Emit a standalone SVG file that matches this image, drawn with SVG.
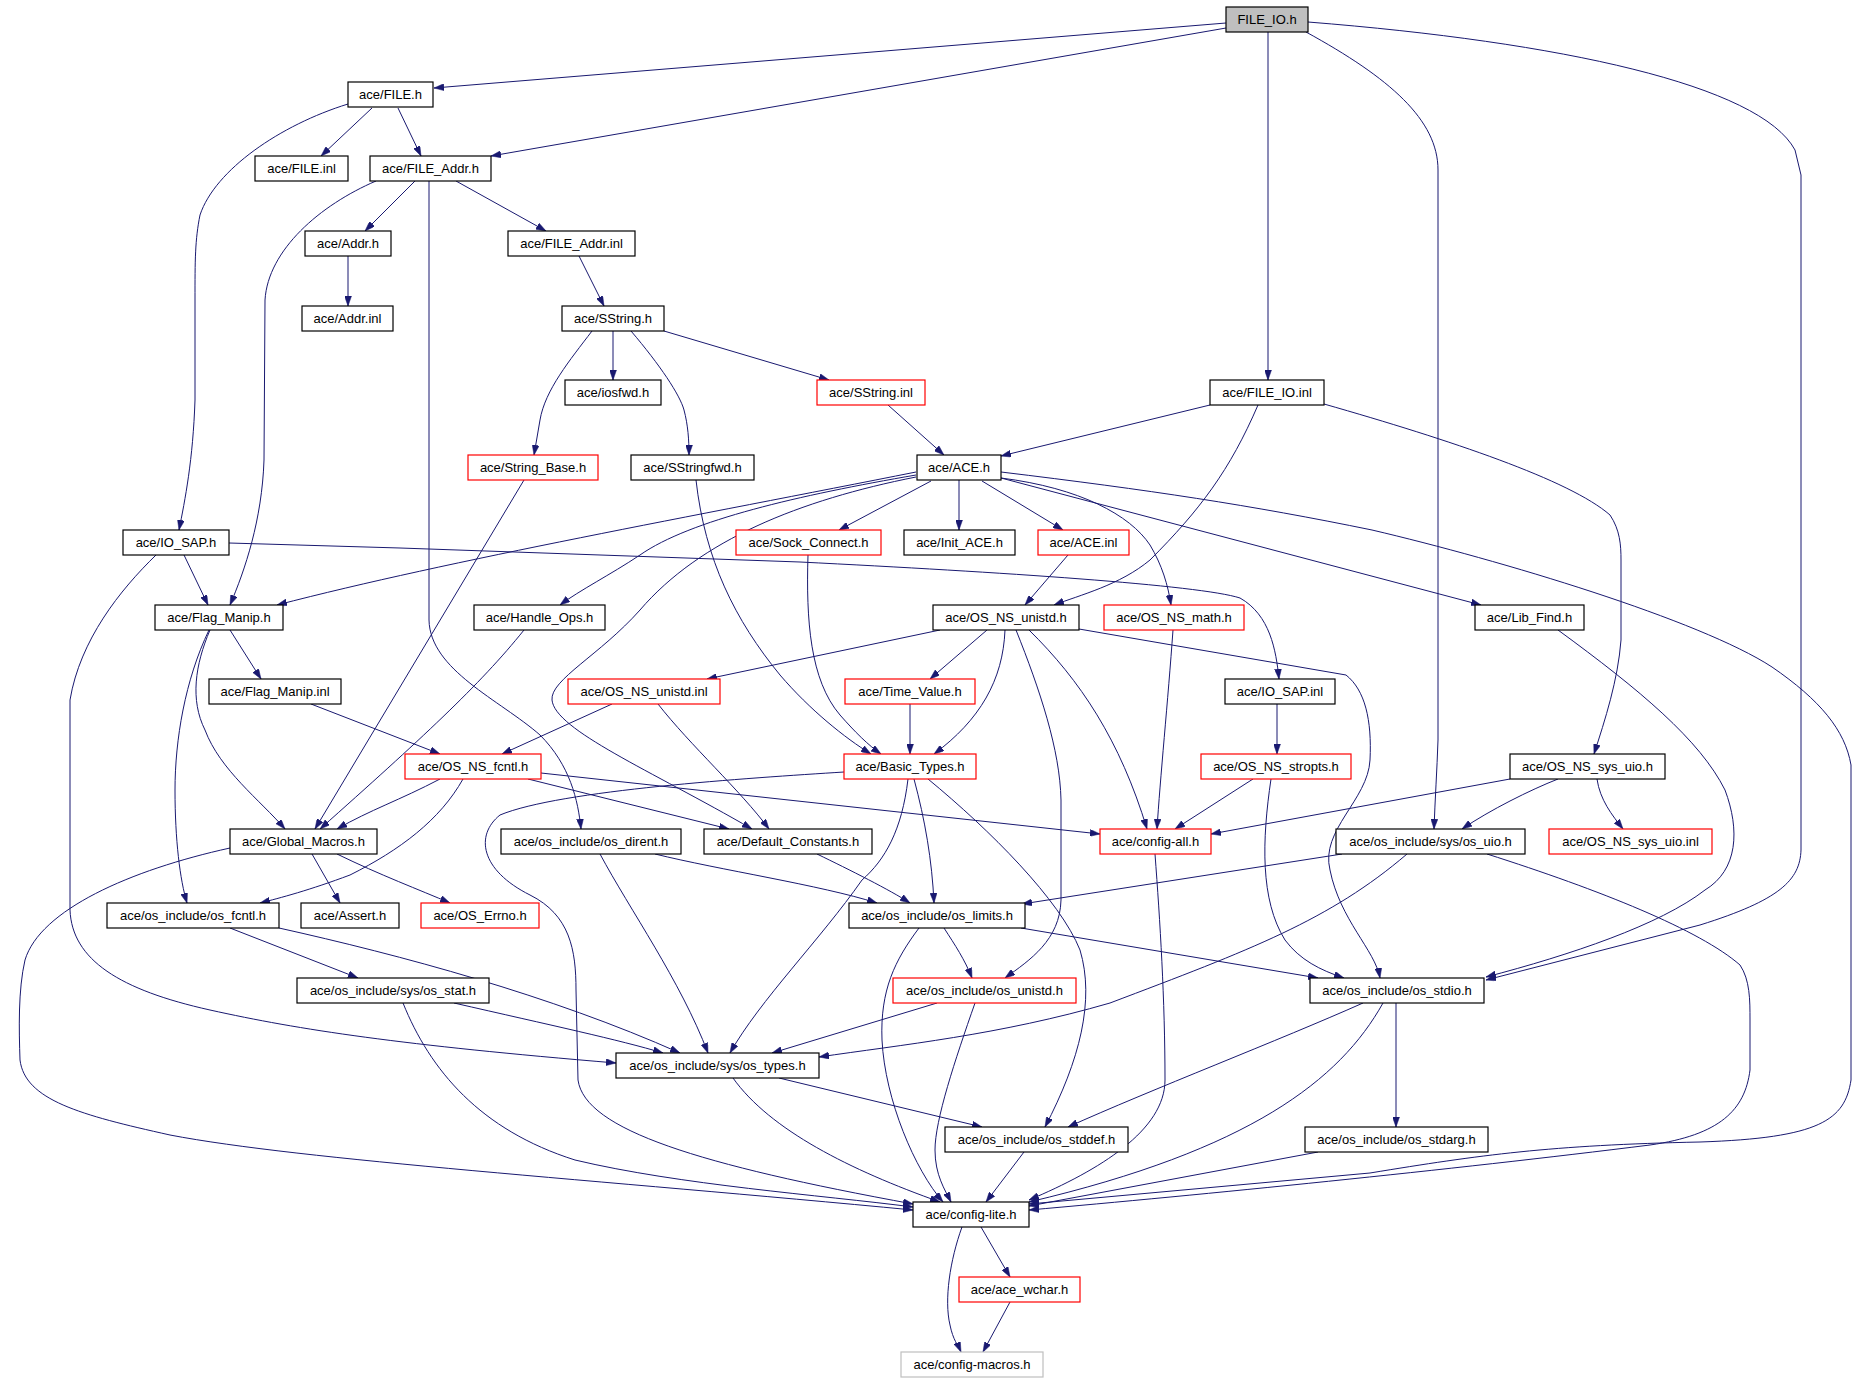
<svg xmlns="http://www.w3.org/2000/svg" width="1869" height="1381" viewBox="0 0 1869 1381">
<defs>
<marker id="a" markerUnits="userSpaceOnUse" viewBox="0 0 10 7" markerWidth="10" markerHeight="7" refX="10" refY="3.5" orient="auto">
<path d="M0,0 L10,3.5 L0,7 z" fill="#191970" stroke="#191970" stroke-width="0.5"/>
</marker>
<style>
.node rect{fill:#ffffff;stroke:#000000;stroke-width:1.2}
.node.red rect{stroke:#ff0000}
.node.root rect{fill:#bfbfbf}
.node.ext rect{stroke:#bfbfbf}
.node text{font-family:"Liberation Sans",Arial,sans-serif;font-size:13px;text-anchor:middle;fill:#000000}
#edges path{fill:none;stroke:#191970;stroke-width:1;marker-end:url(#a)}
</style>
</defs>
<rect width="1869" height="1381" fill="#ffffff"/>
<g id="edges">
<path d="M1226,23 L434,88"/>
<path d="M1226,28 L491,156"/>
<path d="M1268,32 L1268,380"/>
<path d="M1306,32 C1390,78 1438,120 1438,170 L1438,740 C1437,770 1435,800 1434,829"/>
<path d="M1308,22 C1560,42 1760,85 1795,150 L1801,175 L1801,850 C1800,880 1780,900 1700,925 L1486,980"/>
<path d="M372,108 L321,156"/>
<path d="M398,108 L421,156"/>
<path d="M348,104 C280,125 215,170 200,215 C195,240 195,260 195,300 L195,400 C193,460 185,500 179,530"/>
<path d="M415,181 L365,231"/>
<path d="M456,181 L546,231"/>
<path d="M376,181 C320,205 268,250 265,300 L264,460 C262,520 245,570 230,605"/>
<path d="M429,181 L429,620 C430,670 500,700 540,735 C570,765 578,800 581,829"/>
<path d="M348,256 L348,306"/>
<path d="M579,256 L604,306"/>
<path d="M592,331 C570,360 545,390 540,420 L534,455"/>
<path d="M613,331 L613,380"/>
<path d="M631,331 C660,365 680,395 684,410 C688,425 689,440 689,455"/>
<path d="M664,331 L829,380"/>
<path d="M888,405 L944,455"/>
<path d="M1210,405 L1001,456"/>
<path d="M1258,405 C1230,470 1200,510 1150,560 C1120,585 1080,595 1054,605"/>
<path d="M1324,404 C1450,440 1570,480 1610,515 C1620,530 1621,545 1621,560 L1621,640 C1618,680 1605,720 1594,754"/>
<path d="M524,480 L315,829"/>
<path d="M696,480 C705,560 735,620 780,675 C810,710 845,738 871,754"/>
<path d="M916,472 C700,515 450,560 277,605"/>
<path d="M916,475 C800,495 690,520 640,555 C610,575 580,590 560,605"/>
<path d="M916,477 C800,500 700,540 640,610 C600,655 550,680 552,700 C555,730 650,770 752,829"/>
<path d="M931,481 L839,530"/>
<path d="M959,480 L959,530"/>
<path d="M982,481 L1063,530"/>
<path d="M1001,478 C1080,488 1130,515 1150,545 C1162,565 1168,585 1171,605"/>
<path d="M1001,478 L1481,605"/>
<path d="M1001,472 C1150,490 1250,505 1372,530 C1500,560 1700,620 1772,667 C1820,700 1845,730 1851,765 L1851,1080 C1845,1120 1820,1138 1700,1142 C1550,1145 1480,1155 1370,1173 L1029,1204"/>
<path d="M184,555 L208,605"/>
<path d="M229,543 L400,548 L800,562 C1000,572 1200,585 1240,598 C1270,615 1276,650 1279,679"/>
<path d="M156,555 C120,590 80,640 70,700 L70,910 C72,960 120,990 210,1010 C300,1030 400,1045 616,1063"/>
<path d="M808,555 C806,620 810,680 840,715 C855,732 868,745 881,754"/>
<path d="M1068,555 L1025,605"/>
<path d="M230,630 L261,679"/>
<path d="M210,630 C195,665 190,700 205,730 C220,770 260,800 285,829"/>
<path d="M209,630 C185,680 175,740 175,790 C175,840 180,880 187,903"/>
<path d="M524,630 C480,685 420,740 320,829"/>
<path d="M940,630 L707,679"/>
<path d="M987,630 L930,679"/>
<path d="M1005,630 C1003,680 980,720 934,754"/>
<path d="M1016,630 C1040,690 1060,750 1061,800 L1061,900 C1060,940 1030,960 1005,978"/>
<path d="M1029,630 C1080,680 1120,740 1147,829"/>
<path d="M1079,629 L1346,675 C1365,690 1372,720 1370,760 C1368,800 1320,830 1330,870 C1340,920 1375,950 1380,978"/>
<path d="M1173,630 C1168,700 1160,780 1157,829"/>
<path d="M1558,630 C1640,690 1700,740 1725,790 C1740,830 1738,870 1705,890 C1660,925 1570,955 1486,977"/>
<path d="M311,704 L440,754"/>
<path d="M612,704 L502,754"/>
<path d="M658,704 C690,745 740,790 769,829"/>
<path d="M910,704 L910,754"/>
<path d="M1277,704 L1277,754"/>
<path d="M440,779 C400,800 370,810 337,829"/>
<path d="M463,779 C440,820 400,850 350,875 C310,890 280,898 260,903"/>
<path d="M528,779 L729,829"/>
<path d="M541,773 L1100,834"/>
<path d="M844,772 C750,778 560,790 500,815 C475,835 480,870 530,895 C570,915 576,950 576,990 L578,1080 C585,1130 700,1165 913,1204"/>
<path d="M908,779 C902,830 885,860 862,880 C820,940 760,1000 730,1053"/>
<path d="M914,779 C925,820 932,860 934,903"/>
<path d="M928,779 C990,830 1060,900 1080,950 C1095,1000 1080,1060 1045,1127"/>
<path d="M1253,779 L1175,829"/>
<path d="M1271,779 C1262,840 1260,900 1285,940 C1300,960 1320,970 1344,978"/>
<path d="M1510,779 L1211,834"/>
<path d="M1558,779 C1530,790 1490,810 1462,829"/>
<path d="M1597,779 C1600,800 1612,815 1623,829"/>
<path d="M312,854 L340,903"/>
<path d="M337,854 C380,875 420,890 450,903"/>
<path d="M230,848 C130,870 40,910 25,960 C18,990 19,1030 20,1060 C25,1100 80,1115 170,1135 C300,1160 600,1180 913,1210"/>
<path d="M600,854 C630,910 680,980 708,1053"/>
<path d="M655,854 C720,870 820,885 877,903"/>
<path d="M817,854 C850,870 890,890 910,903"/>
<path d="M1155,854 C1160,920 1165,1000 1165,1080 C1165,1130 1100,1170 1029,1200"/>
<path d="M1342,854 L1022,904"/>
<path d="M1407,854 C1330,920 1250,950 1110,1003 C1000,1035 900,1045 819,1057"/>
<path d="M1487,854 C1600,890 1700,930 1740,965 C1750,980 1750,1000 1750,1020 L1750,1070 C1745,1110 1720,1135 1650,1145 C1450,1170 1200,1195 1029,1210"/>
<path d="M230,928 L358,978"/>
<path d="M279,928 C400,955 550,995 680,1053"/>
<path d="M944,928 C955,945 965,960 972,978"/>
<path d="M1021,928 L1318,978"/>
<path d="M919,928 C895,960 880,990 882,1040 C885,1100 915,1170 943,1202"/>
<path d="M454,1003 C550,1025 620,1040 663,1053"/>
<path d="M403,1003 C430,1070 480,1130 575,1160 C680,1185 820,1195 913,1207"/>
<path d="M937,1003 L772,1053"/>
<path d="M975,1003 C955,1060 935,1120 935,1150 C935,1175 945,1190 951,1202"/>
<path d="M1363,1003 C1280,1040 1150,1090 1068,1127"/>
<path d="M1383,1003 C1340,1080 1250,1150 1029,1202"/>
<path d="M1396,1003 L1396,1127"/>
<path d="M779,1078 L982,1127"/>
<path d="M733,1078 C770,1130 850,1170 940,1202"/>
<path d="M1024,1152 L986,1202"/>
<path d="M1318,1152 L1029,1206"/>
<path d="M981,1227 L1010,1277"/>
<path d="M962,1227 C950,1260 944,1300 950,1325 C953,1340 958,1345 961,1352"/>
<path d="M1010,1302 L983,1352"/>
</g>
<g id="n1" class="node root"><rect x="1226" y="7" width="82" height="25"/><text x="1267" y="24">FILE_IO.h</text></g>
<g id="n2" class="node"><rect x="348" y="82" width="85" height="25"/><text x="390.5" y="99">ace/FILE.h</text></g>
<g id="n3" class="node"><rect x="255" y="156" width="93" height="25"/><text x="301.5" y="173">ace/FILE.inl</text></g>
<g id="n4" class="node"><rect x="370" y="156" width="121" height="25"/><text x="430.5" y="173">ace/FILE_Addr.h</text></g>
<g id="n5" class="node"><rect x="305" y="231" width="86" height="25"/><text x="348" y="248">ace/Addr.h</text></g>
<g id="n6" class="node"><rect x="508" y="231" width="127" height="25"/><text x="571.5" y="248">ace/FILE_Addr.inl</text></g>
<g id="n7" class="node"><rect x="302" y="306" width="91" height="25"/><text x="347.5" y="323">ace/Addr.inl</text></g>
<g id="n8" class="node"><rect x="562" y="306" width="102" height="25"/><text x="613" y="323">ace/SString.h</text></g>
<g id="n9" class="node"><rect x="565" y="380" width="96" height="25"/><text x="613" y="397">ace/iosfwd.h</text></g>
<g id="n10" class="node red"><rect x="817" y="380" width="108" height="25"/><text x="871" y="397">ace/SString.inl</text></g>
<g id="n11" class="node"><rect x="1210" y="380" width="114" height="25"/><text x="1267" y="397">ace/FILE_IO.inl</text></g>
<g id="n12" class="node red"><rect x="468" y="455" width="130" height="25"/><text x="533" y="472">ace/String_Base.h</text></g>
<g id="n13" class="node"><rect x="631" y="455" width="123" height="25"/><text x="692.5" y="472">ace/SStringfwd.h</text></g>
<g id="n14" class="node"><rect x="917" y="455" width="84" height="25"/><text x="959" y="472">ace/ACE.h</text></g>
<g id="n15" class="node"><rect x="123" y="530" width="106" height="25"/><text x="176" y="547">ace/IO_SAP.h</text></g>
<g id="n16" class="node red"><rect x="736" y="530" width="145" height="25"/><text x="808.5" y="547">ace/Sock_Connect.h</text></g>
<g id="n17" class="node"><rect x="904" y="530" width="111" height="25"/><text x="959.5" y="547">ace/Init_ACE.h</text></g>
<g id="n18" class="node red"><rect x="1038" y="530" width="91" height="25"/><text x="1083.5" y="547">ace/ACE.inl</text></g>
<g id="n19" class="node"><rect x="155" y="605" width="128" height="25"/><text x="219" y="622">ace/Flag_Manip.h</text></g>
<g id="n20" class="node"><rect x="474" y="605" width="131" height="25"/><text x="539.5" y="622">ace/Handle_Ops.h</text></g>
<g id="n21" class="node"><rect x="933" y="605" width="146" height="25"/><text x="1006" y="622">ace/OS_NS_unistd.h</text></g>
<g id="n22" class="node red"><rect x="1104" y="605" width="140" height="25"/><text x="1174" y="622">ace/OS_NS_math.h</text></g>
<g id="n23" class="node"><rect x="1475" y="605" width="109" height="25"/><text x="1529.5" y="622">ace/Lib_Find.h</text></g>
<g id="n24" class="node"><rect x="209" y="679" width="132" height="25"/><text x="275" y="696">ace/Flag_Manip.inl</text></g>
<g id="n25" class="node red"><rect x="568" y="679" width="152" height="25"/><text x="644" y="696">ace/OS_NS_unistd.inl</text></g>
<g id="n26" class="node red"><rect x="845" y="679" width="130" height="25"/><text x="910" y="696">ace/Time_Value.h</text></g>
<g id="n27" class="node"><rect x="1225" y="679" width="110" height="25"/><text x="1280" y="696">ace/IO_SAP.inl</text></g>
<g id="n28" class="node red"><rect x="405" y="754" width="136" height="25"/><text x="473" y="771">ace/OS_NS_fcntl.h</text></g>
<g id="n29" class="node red"><rect x="844" y="754" width="132" height="25"/><text x="910" y="771">ace/Basic_Types.h</text></g>
<g id="n30" class="node red"><rect x="1201" y="754" width="150" height="25"/><text x="1276" y="771">ace/OS_NS_stropts.h</text></g>
<g id="n31" class="node"><rect x="1510" y="754" width="155" height="25"/><text x="1587.5" y="771">ace/OS_NS_sys_uio.h</text></g>
<g id="n32" class="node"><rect x="230" y="829" width="147" height="25"/><text x="303.5" y="846">ace/Global_Macros.h</text></g>
<g id="n33" class="node"><rect x="501" y="829" width="180" height="25"/><text x="591" y="846">ace/os_include/os_dirent.h</text></g>
<g id="n34" class="node"><rect x="704" y="829" width="168" height="25"/><text x="788" y="846">ace/Default_Constants.h</text></g>
<g id="n35" class="node red"><rect x="1100" y="829" width="111" height="25"/><text x="1155.5" y="846">ace/config-all.h</text></g>
<g id="n36" class="node"><rect x="1336" y="829" width="189" height="25"/><text x="1430.5" y="846">ace/os_include/sys/os_uio.h</text></g>
<g id="n37" class="node red"><rect x="1549" y="829" width="163" height="25"/><text x="1630.5" y="846">ace/OS_NS_sys_uio.inl</text></g>
<g id="n38" class="node"><rect x="107" y="903" width="172" height="25"/><text x="193" y="920">ace/os_include/os_fcntl.h</text></g>
<g id="n39" class="node"><rect x="301" y="903" width="98" height="25"/><text x="350" y="920">ace/Assert.h</text></g>
<g id="n40" class="node red"><rect x="421" y="903" width="118" height="25"/><text x="480" y="920">ace/OS_Errno.h</text></g>
<g id="n41" class="node"><rect x="849" y="903" width="176" height="25"/><text x="937" y="920">ace/os_include/os_limits.h</text></g>
<g id="n42" class="node"><rect x="297" y="978" width="192" height="25"/><text x="393" y="995">ace/os_include/sys/os_stat.h</text></g>
<g id="n43" class="node red"><rect x="893" y="978" width="183" height="25"/><text x="984.5" y="995">ace/os_include/os_unistd.h</text></g>
<g id="n44" class="node"><rect x="1310" y="978" width="174" height="25"/><text x="1397" y="995">ace/os_include/os_stdio.h</text></g>
<g id="n45" class="node"><rect x="616" y="1053" width="203" height="25"/><text x="717.5" y="1070">ace/os_include/sys/os_types.h</text></g>
<g id="n46" class="node"><rect x="945" y="1127" width="183" height="25"/><text x="1036.5" y="1144">ace/os_include/os_stddef.h</text></g>
<g id="n47" class="node"><rect x="1305" y="1127" width="183" height="25"/><text x="1396.5" y="1144">ace/os_include/os_stdarg.h</text></g>
<g id="n48" class="node"><rect x="913" y="1202" width="116" height="25"/><text x="971" y="1219">ace/config-lite.h</text></g>
<g id="n49" class="node red"><rect x="959" y="1277" width="121" height="25"/><text x="1019.5" y="1294">ace/ace_wchar.h</text></g>
<g id="n50" class="node ext"><rect x="901" y="1352" width="142" height="25"/><text x="972" y="1369">ace/config-macros.h</text></g>
</svg>
